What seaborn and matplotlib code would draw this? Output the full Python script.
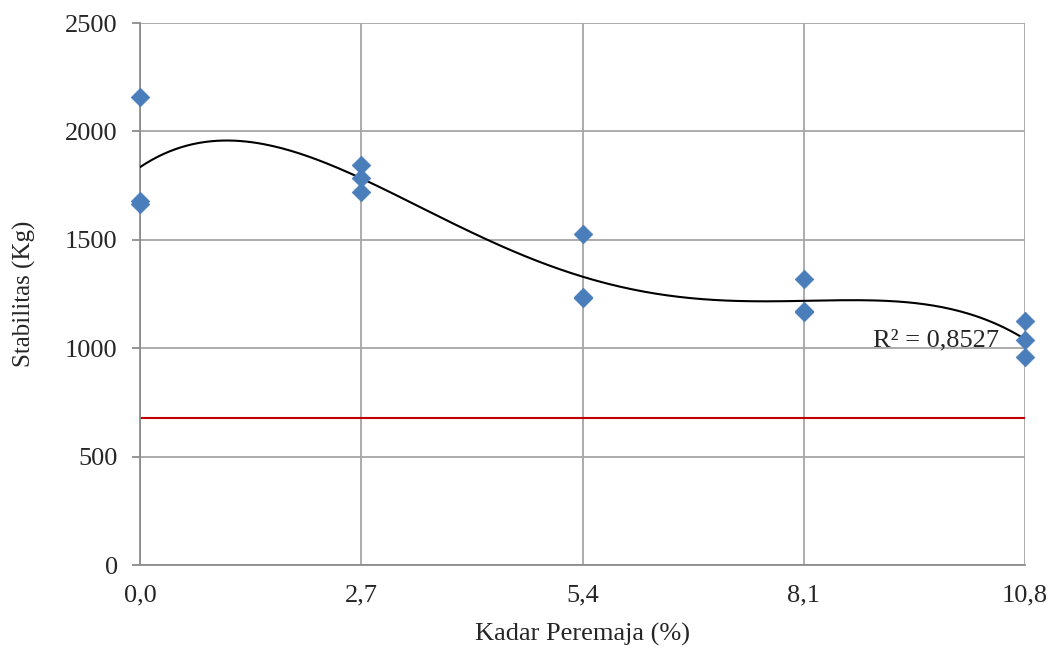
import numpy as np
import pandas as pd
import matplotlib
matplotlib.use("Agg")
import matplotlib.pyplot as plt
import seaborn as sns

# Data
kadar = [0.0, 0.0, 0.0, 2.7, 2.7, 2.7, 5.4, 5.4, 5.4, 8.1, 8.1, 8.1, 10.8, 10.8, 10.8]
stabilitas = [2160, 1680, 1665, 1845, 1785, 1720, 1525, 1235, 1230, 1320, 1170, 1165, 1125, 1040, 960]
x_ticks = [0.0, 2.7, 5.4, 8.1, 10.8]
x_tick_labels = ["0,0", "2,7", "5,4", "8,1", "10,8"]
y_ticks = [0, 500, 1000, 1500, 2000, 2500]
batas_min = 678
r2_label = "R² = 0,8527"

sns.set_theme(style="white")
plt.rcParams['font.family'] = ['Liberation Serif', 'DejaVu Serif']

fig = plt.figure(figsize=(10.55, 6.52), dpi=100)
ax = fig.add_axes([140/1055, 1-565/652, 885/1055, 542/652])

df = pd.DataFrame({"Kadar": kadar, "Stabilitas": stabilitas})

# Red reference line
ref = pd.DataFrame({"x": [x_ticks[0], x_ticks[-1]], "y": [batas_min, batas_min]})
sns.lineplot(data=ref, x="x", y="y", color="#c00000", linewidth=1.5, ax=ax, zorder=2)

# Polynomial (order 4) trendline
coef = np.polyfit(df["Kadar"], df["Stabilitas"], 4)
xs = np.linspace(x_ticks[0], x_ticks[-1], 300)
trend = pd.DataFrame({"x": xs, "y": np.polyval(coef, xs)})
sns.lineplot(data=trend, x="x", y="y", color="black", linewidth=1.5, ax=ax, zorder=3)

sns.scatterplot(data=df, x="Kadar", y="Stabilitas", marker="D", s=90,
                color="#4a7ebb", edgecolor="#4a7ebb", linewidth=0.5, ax=ax, zorder=4,
                clip_on=False)

ax.set_xlim(0, 10.8)
ax.set_ylim(0, 2500)
ax.set_xticks(x_ticks)
ax.set_xticklabels(x_tick_labels)
ax.set_yticks(y_ticks)
ax.grid(True, color="#a6a6a6", linewidth=1.3)
ax.set_axisbelow(True)
for s in ["top", "right"]:
    ax.spines[s].set_visible(False)
for s in ["left", "bottom"]:
    ax.spines[s].set_color("#8c8c8c")
    ax.spines[s].set_linewidth(1.3)
ax.tick_params(axis="y", length=6, width=1.3, color="#8c8c8c", labelsize=19, pad=10, left=True)
ax.tick_params(axis="x", length=0, labelsize=19, pad=14)
ax.set_xlabel("Kadar Peremaja (%)", fontsize=19, labelpad=12)
ax.set_ylabel("Stabilitas (Kg)", fontsize=18, labelpad=21)

ax.text(8.94, 1035, r2_label, fontsize=19, ha="left", va="center", zorder=5)

fig.savefig("out.png", dpi=100)
